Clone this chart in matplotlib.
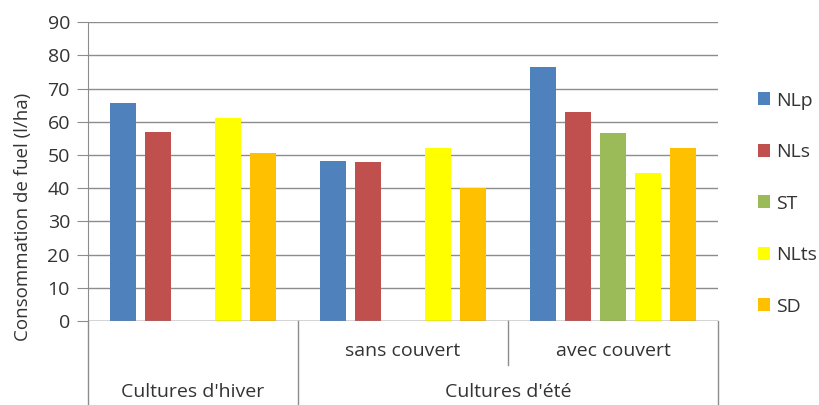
import matplotlib.pyplot as plt
import numpy as np

plt.rcParams['font.family'] = ['Open Sans', 'DejaVu Sans']

# data
groups = ["", "sans couvert", "avec couvert"]
seasons = ["Cultures d'hiver", "Cultures d'été"]
series = ["NLp", "NLs", "ST", "NLts", "SD"]
NLp = [65.8, 48.3, 76.4]
NLs = [57.0, 48.0, 63.0]
ST = [np.nan, np.nan, 56.7]
NLts = [61.3, 52.0, 44.6]
SD = [50.7, 40.1, 52.0]
colors = ["#4F81BD", "#C0504D", "#9BBB59", "#FFFF00", "#FFC000"]

values = [NLp, NLs, ST, NLts, SD]

fig = plt.figure(figsize=(8.19, 4.05), dpi=100)
ax = fig.add_axes([88 / 819, 84 / 405, 630 / 819, 298.7 / 405])

x = np.arange(len(groups))
slot = 1 / 6
width = slot * 0.77
for i, (name, vals) in enumerate(zip(series, values)):
    ax.bar(x + (i - 2) * slot, vals, width, color=colors[i], label=name, zorder=3)

fs = 14
txt = '#333333'
ax.set_xlim(-0.5, 2.5)
ax.set_ylim(0, 90)
ax.set_yticks(range(0, 91, 10))
ax.tick_params(axis='y', labelsize=fs, length=8, colors='#8c8c8c', labelcolor=txt, pad=5)
ax.set_xticks([])
ax.grid(axis='y', color='#8c8c8c', linewidth=1, zorder=0)
for s in ['top', 'right', 'bottom']:
    ax.spines[s].set_visible(False)
ax.spines['left'].set_color('#8c8c8c')
ax.axhline(0, color='#8c8c8c', linewidth=1, zorder=4)
ax.set_ylabel("Consommation de fuel (l/ha)", fontsize=13.5, color=txt)
# Excel centres the title on the whole plot area, category labels included
ax.yaxis.set_label_coords(-56 / 630, 0.35)

# multi-level category axis
tr = ax.get_xaxis_transform()
lc = '#8c8c8c'
row1 = -44 / 298.7
row2 = -84 / 298.7
for xx, ybot in [(-0.5, row2), (0.5, row2), (1.5, row1), (2.5, row2)]:
    ax.plot([xx, xx], [0, ybot], transform=tr, color=lc, linewidth=1, clip_on=False)
for xi, g in zip(x, groups):
    if g:
        ax.text(xi, -30 / 298.7, g, transform=tr, ha='center', va='center',
                fontsize=fs, color=txt)
ax.text(0, -71 / 298.7, seasons[0], transform=tr, ha='center', va='center',
        fontsize=fs, color=txt)
ax.text(1.5, -71 / 298.7, seasons[1], transform=tr, ha='center', va='center',
        fontsize=fs, color=txt)

leg = fig.legend(loc='upper left', bbox_to_anchor=(750 / 819, 1 - 84 / 405),
                 frameon=False, fontsize=fs, handlelength=0.65, handleheight=0.65,
                 handletextpad=0.3, labelspacing=1.72, borderaxespad=0)
for t in leg.get_texts():
    t.set_color(txt)

fig.savefig("out.png", dpi=100)
